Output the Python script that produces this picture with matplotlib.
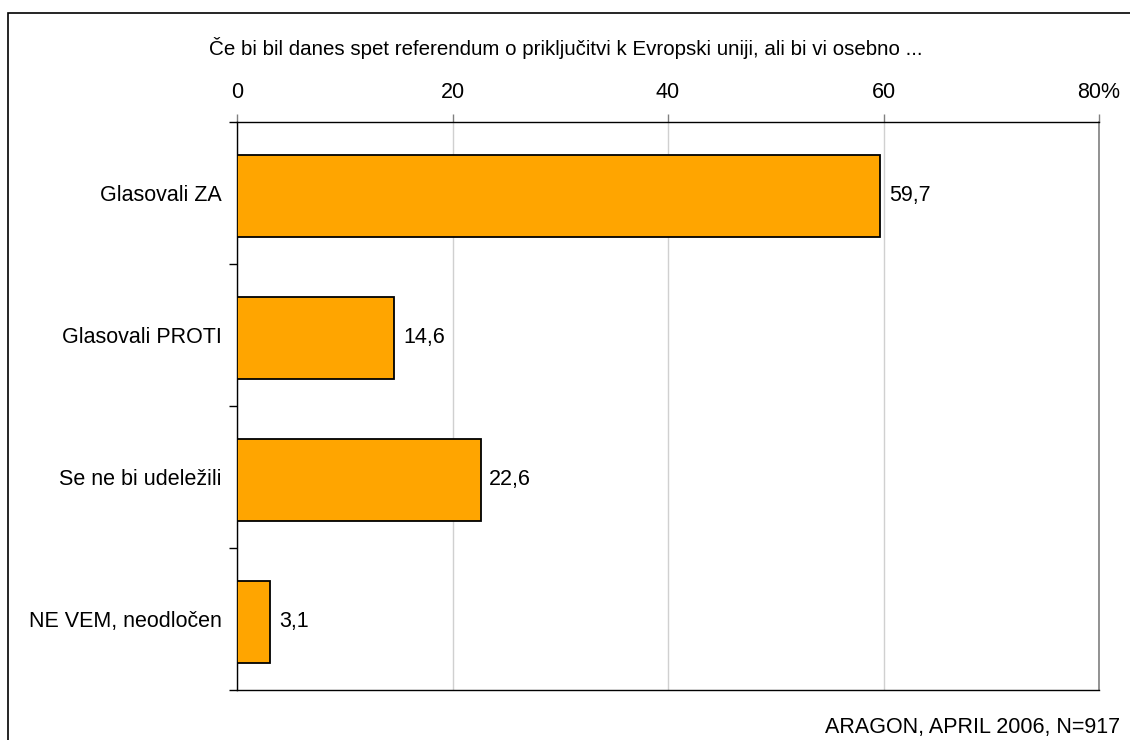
import matplotlib.pyplot as plt
from matplotlib.patches import Rectangle

plt.rcParams['font.family'] = ['Liberation Sans', 'DejaVu Sans']

categories = ['Glasovali ZA', 'Glasovali PROTI', 'Se ne bi udeležili', 'NE VEM, neodločen']
values = [59.7, 14.6, 22.6, 3.1]
value_labels = ['59,7', '14,6', '22,6', '3,1']
xticks = [0, 20, 40, 60, 80]
xtick_labels = ['0', '20', '40', '60', '80%']
title = 'Če bi bil danes spet referendum o priključitvi k Evropski uniji, ali bi vi osebno ...'
footer = 'ARAGON, APRIL 2006, N=917'

fs = 15.5

fig = plt.figure(figsize=(11.3, 7.4), dpi=100)
# frame round the whole chart (runs off the right and bottom edge)
fig.patches.append(Rectangle((8 / 1130, -0.05), 1.2, 1 - 13 / 740 + 0.05,
                             transform=fig.transFigure, fill=False,
                             edgecolor='black', linewidth=1.2))

ax = fig.add_axes([237 / 1130, 1 - 690 / 740, 862 / 1130, 568 / 740])

y = list(range(len(categories)))
ax.barh([i + 0.02 for i in y], values, height=0.58, color='#FFA500',
        edgecolor='black', linewidth=1.3, zorder=3)
for yi, v, lab in zip(y, values, value_labels):
    ax.text(v + 0.8, yi + 0.02, lab, va='center', ha='left', fontsize=fs)

ax.set_xlim(0, 80)
ax.set_ylim(len(categories) - 0.5, -0.5)
ax.xaxis.tick_top()
ax.set_xticks(xticks)
ax.set_xticklabels(xtick_labels, fontsize=fs)
ax.tick_params(axis='x', direction='out', length=6, width=1, color='#808080', pad=7.5)
ax.grid(axis='x', color='#d0d0d0', linewidth=1, zorder=0)

# category labels in the middle, ticks on the band edges
ax.set_yticks([i - 0.5 for i in range(len(categories) + 1)])
ax.set_yticklabels([])
ax.set_yticks(y, minor=True)
ax.set_yticklabels(categories, minor=True, fontsize=fs)
ax.tick_params(axis='y', which='major', direction='out', length=6, width=1)
ax.tick_params(axis='y', which='minor', length=0, pad=11)

for s in ['left', 'top', 'bottom']:
    ax.spines[s].set_color('black')
    ax.spines[s].set_linewidth(1)
ax.spines['right'].set_color('#808080')
ax.spines['right'].set_linewidth(1.2)

fig.text(566 / 1130, 1 - 48 / 740, title, ha='center', va='center', fontsize=14.8)
fig.text(1120 / 1130, 1 - 727 / 740, footer, ha='right', va='center', fontsize=fs)

fig.savefig('out.png', dpi=100)
